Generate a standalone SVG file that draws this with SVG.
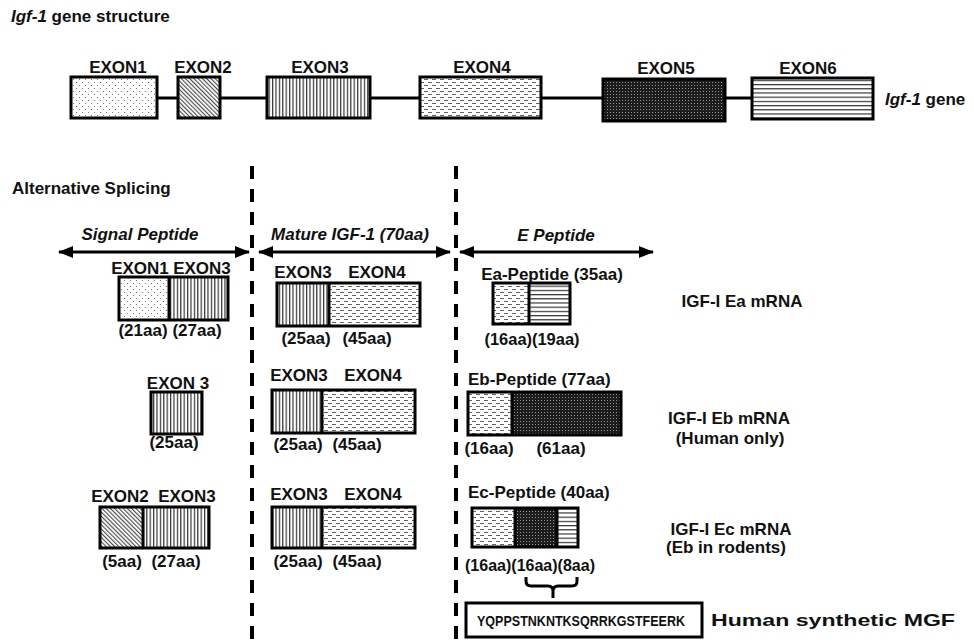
<svg xmlns="http://www.w3.org/2000/svg" width="974" height="643" viewBox="0 0 974 643">
<style>
text{font-family:"Liberation Sans",Arial,sans-serif;font-weight:bold;font-size:17px;fill:#111}
.it{font-style:italic}
.c{text-anchor:middle}
.box{stroke:#000;stroke-width:3}
.ln{stroke:#000;stroke-width:3;fill:none}
.dash{stroke:#000;stroke-width:4;stroke-dasharray:13 10;fill:none}
</style>
<defs>
<pattern id="pDot" width="6" height="6" patternUnits="userSpaceOnUse">
<rect width="6" height="6" fill="#fff"/>
<circle cx="1.5" cy="1.5" r="0.6" fill="#666"/>
<circle cx="4.5" cy="4.5" r="0.6" fill="#666"/>
</pattern>
<pattern id="pDiag" width="3" height="3" patternUnits="userSpaceOnUse" patternTransform="rotate(-45)">
<rect width="3" height="3" fill="#fff"/>
<line x1="0.6" y1="0" x2="0.6" y2="3" stroke="#444" stroke-width="1.1"/>
</pattern>
<pattern id="pV" width="3.4" height="4" patternUnits="userSpaceOnUse">
<rect width="3.4" height="4" fill="#fff"/>
<line x1="0.6" y1="0" x2="0.6" y2="4" stroke="#333" stroke-width="1.2"/>
</pattern>
<pattern id="pDash" width="8" height="6" patternUnits="userSpaceOnUse">
<rect width="8" height="6" fill="#fff"/>
<line x1="0" y1="1.5" x2="4" y2="1.5" stroke="#555" stroke-width="0.9"/>
<line x1="4" y1="4.5" x2="8" y2="4.5" stroke="#555" stroke-width="0.9"/>
</pattern>
<pattern id="pDark" width="3" height="3" patternUnits="userSpaceOnUse">
<rect width="3" height="3" fill="#1c1c1c"/>
<circle cx="1.5" cy="1.5" r="0.55" fill="#aaa"/>
</pattern>
<pattern id="pH" width="4" height="4.2" patternUnits="userSpaceOnUse">
<rect width="4" height="4.2" fill="#fff"/>
<line x1="0" y1="0.6" x2="4" y2="0.6" stroke="#333" stroke-width="1.2"/>
</pattern>
<marker id="ah" viewBox="0 0 15 12" refX="14" refY="6" markerWidth="15" markerHeight="12" markerUnits="userSpaceOnUse" orient="auto-start-reverse">
<path d="M0,0 L15,6 L0,12 Z" fill="#000"/>
</marker>
</defs>
<rect width="974" height="643" fill="#fff"/>

<g id="titles">
<text x="11" y="22"><tspan class="it">Igf-1</tspan> gene structure</text>
<text x="12" y="194">Alternative Splicing</text>
</g>

<g id="connectors">
<line class="ln" x1="157" y1="98" x2="752" y2="98"/>
<line class="dash" x1="252" y1="166" x2="252" y2="643"/>
<line class="dash" x1="456" y1="166" x2="456" y2="643"/>
<line class="ln" x1="59" y1="252" x2="249" y2="252" marker-start="url(#ah)" marker-end="url(#ah)"/>
<line class="ln" x1="259" y1="252" x2="450" y2="252" marker-start="url(#ah)" marker-end="url(#ah)"/>
<line class="ln" x1="460" y1="252" x2="653" y2="252" marker-start="url(#ah)" marker-end="url(#ah)"/>
<path class="ln" d="M526,577 L526,581 Q526,586 531,586 L548,586 Q553,586 553,591 L553,598 M553,591 Q553,586 558,586 L572,586 Q577,586 577,581 L577,577"/>
</g>

<g id="gene">
<g id="exon1"><rect class="box" x="71" y="77" width="86" height="41" fill="url(#pDot)"/><text class="c" x="118" y="73">EXON1</text></g>
<g id="exon2"><rect class="box" x="178" y="77" width="42" height="41" fill="url(#pDiag)"/><text class="c" x="203" y="73">EXON2</text></g>
<g id="exon3"><rect class="box" x="267" y="77" width="103" height="41" fill="url(#pV)"/><text class="c" x="320" y="73">EXON3</text></g>
<g id="exon4"><rect class="box" x="420" y="77" width="121" height="41" fill="url(#pDash)"/><text class="c" x="482" y="73">EXON4</text></g>
<g id="exon5"><rect class="box" x="603" y="79" width="122" height="42" fill="url(#pDark)"/><text class="c" x="666" y="74">EXON5</text></g>
<g id="exon6"><rect class="box" x="752" y="78" width="121" height="41" fill="url(#pH)"/><text class="c" x="808" y="74">EXON6</text></g>
<text x="885" y="105"><tspan class="it">Igf-1</tspan> gene</text>
</g>

<g id="headers">
<text class="it c" x="140" y="240">Signal Peptide</text>
<text class="it c" x="350" y="240">Mature IGF-1 (70aa)</text>
<text class="it c" x="556" y="241">E Peptide</text>
</g>

<g id="sig-a">
<rect x="119" y="277" width="50" height="43" fill="url(#pDot)"/>
<rect x="169" y="277" width="59" height="43" fill="url(#pV)"/>
<rect class="box" x="119" y="277" width="109" height="43" fill="none"/>
<line class="ln" x1="169" y1="277" x2="169" y2="320"/>
<text class="c" x="140" y="274">EXON1</text><text class="c" x="202" y="274">EXON3</text>
<text class="c" x="143" y="336">(21aa)</text><text class="c" x="197" y="336">(27aa)</text>
</g>
<g id="mat-a">
<rect x="277" y="283" width="52" height="43" fill="url(#pV)"/>
<rect x="329" y="283" width="91" height="43" fill="url(#pDash)"/>
<rect class="box" x="277" y="283" width="143" height="43" fill="none"/>
<line class="ln" x1="329" y1="283" x2="329" y2="326"/>
<text class="c" x="303" y="278">EXON3</text><text class="c" x="377" y="278">EXON4</text>
<text class="c" x="306" y="344">(25aa)</text><text class="c" x="367" y="344">(45aa)</text>
</g>
<g id="e-a">
<rect x="493" y="283" width="36" height="41" fill="url(#pDash)"/>
<rect x="529" y="283" width="41" height="41" fill="url(#pH)"/>
<rect class="box" x="493" y="283" width="77" height="41" fill="none"/>
<line class="ln" x1="529" y1="283" x2="529" y2="324"/>
<text class="c" x="552" y="280">Ea-Peptide (35aa)</text>
<text class="c" x="532" y="345" textLength="95" lengthAdjust="spacingAndGlyphs">(16aa)(19aa)</text>
</g>
<g id="mrna-a"><text class="c" x="742" y="307">IGF-I Ea mRNA</text></g>

<g id="sig-b">
<rect class="box" x="151" y="392" width="51" height="42" fill="url(#pV)"/>
<text class="c" x="178" y="389">EXON 3</text>
<text class="c" x="174" y="448">(25aa)</text>
</g>
<g id="mat-b">
<rect x="272" y="390" width="50" height="43" fill="url(#pV)"/>
<rect x="322" y="390" width="93" height="43" fill="url(#pDash)"/>
<rect class="box" x="272" y="390" width="143" height="43" fill="none"/>
<line class="ln" x1="322" y1="390" x2="322" y2="433"/>
<text class="c" x="299" y="381">EXON3</text><text class="c" x="373" y="381">EXON4</text>
<text class="c" x="298" y="450">(25aa)</text><text class="c" x="357" y="450">(45aa)</text>
</g>
<g id="e-b">
<rect x="468" y="392" width="44" height="43" fill="url(#pDash)"/>
<rect x="512" y="392" width="109" height="43" fill="url(#pDark)"/>
<rect class="box" x="468" y="392" width="153" height="43" fill="none"/>
<line class="ln" x1="512" y1="392" x2="512" y2="435"/>
<text x="468" y="385">Eb-Peptide (77aa)</text>
<text class="c" x="489" y="454">(16aa)</text><text class="c" x="561" y="454">(61aa)</text>
</g>
<g id="mrna-b"><text class="c" x="729" y="424">IGF-I Eb mRNA</text><text class="c" x="730" y="444">(Human only)</text></g>

<g id="sig-c">
<rect x="100" y="507" width="43" height="41" fill="url(#pDiag)"/>
<rect x="143" y="507" width="66" height="41" fill="url(#pV)"/>
<rect class="box" x="100" y="507" width="109" height="41" fill="none"/>
<line class="ln" x1="143" y1="507" x2="143" y2="548"/>
<text class="c" x="120" y="502">EXON2</text><text class="c" x="187" y="502">EXON3</text>
<text class="c" x="122" y="567">(5aa)</text><text class="c" x="176" y="567">(27aa)</text>
</g>
<g id="mat-c">
<rect x="272" y="507" width="50" height="41" fill="url(#pV)"/>
<rect x="322" y="507" width="93" height="41" fill="url(#pDash)"/>
<rect class="box" x="272" y="507" width="143" height="41" fill="none"/>
<line class="ln" x1="322" y1="507" x2="322" y2="548"/>
<text class="c" x="299" y="500">EXON3</text><text class="c" x="373" y="500">EXON4</text>
<text class="c" x="298" y="567">(25aa)</text><text class="c" x="357" y="567">(45aa)</text>
</g>
<g id="e-c">
<rect x="472" y="508" width="43" height="39" fill="url(#pDash)"/>
<rect x="515" y="508" width="42" height="39" fill="url(#pDark)"/>
<rect x="557" y="508" width="21" height="39" fill="url(#pH)"/>
<rect class="box" x="472" y="508" width="106" height="39" fill="none"/>
<line class="ln" x1="515" y1="508" x2="515" y2="547"/>
<line class="ln" x1="557" y1="508" x2="557" y2="547"/>
<text x="468" y="498">Ec-Peptide (40aa)</text>
<text x="465" y="571" textLength="130" lengthAdjust="spacingAndGlyphs">(16aa)(16aa)(8aa)</text>
</g>
<g id="mrna-c"><text class="c" x="731" y="535">IGF-I Ec mRNA</text><text class="c" x="726" y="553">(Eb in rodents)</text></g>

<g id="mgf">
<rect class="box" x="466" y="603" width="236" height="34" fill="#fff"/>
<text x="477" y="626" style="font-size:15px" textLength="208" lengthAdjust="spacingAndGlyphs">YQPPSTNKNTKSQRRKGSTFEERK</text>
<text x="711" y="626" textLength="244" lengthAdjust="spacingAndGlyphs">Human synthetic MGF</text>
</g>
</svg>
